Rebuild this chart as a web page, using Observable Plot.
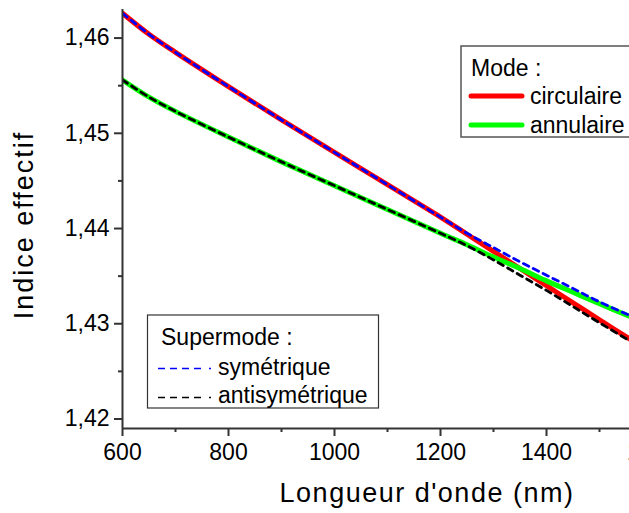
<!DOCTYPE html>
<html>
<head>
<meta charset="utf-8">
<script src="https://cdn.jsdelivr.net/npm/d3@7"></script>
<script src="https://cdn.jsdelivr.net/npm/@observablehq/plot@0.6"></script>
<style>
  html, body { margin: 0; padding: 0; overflow: hidden; background: #fff; }
  #chart { width: 629px; height: 513px; overflow: hidden; position: relative; }
</style>
</head>
<body>
<div id="chart"></div>
<script>
// Wavelength (nm)
const wavelengths = [600, 650, 700, 800, 900, 1000, 1100, 1200, 1250, 1300, 1350, 1400, 1450, 1500, 1560];
// Mode indices
const circulaire = [1.4626, 1.4604, 1.4585, 1.4549, 1.4514, 1.4480, 1.4446, 1.4412, 1.4394, 1.4376, 1.4358, 1.4340, 1.4322, 1.4304, 1.4283];
const annulaire  = [1.4556, 1.4538, 1.4523, 1.4496, 1.4470, 1.4445, 1.4420, 1.4395, 1.4383, 1.4370, 1.4358, 1.4345, 1.4333, 1.4321, 1.4307];
// Supermode indices
const symetrique     = [1.4626, 1.4604, 1.4585, 1.4549, 1.4514, 1.4480, 1.4446, 1.4412, 1.4395, 1.4380, 1.4365, 1.4351, 1.4337, 1.4323, 1.4308];
const antisymetrique = [1.4556, 1.4538, 1.4523, 1.4496, 1.4470, 1.4445, 1.4420, 1.4395, 1.4382, 1.4367, 1.4351, 1.4335, 1.4318, 1.4301, 1.4281];
// Ticks
const xMajorTicks = [600, 800, 1000, 1200, 1400, 1600];
const xMinorTicks = [700, 900, 1100, 1300, 1500];
const yMajorTicks = [1.42, 1.43, 1.44, 1.45, 1.46];
const yMinorTicks = [1.425, 1.435, 1.445, 1.455];

const series = (ys) => wavelengths.map((x, i) => ({x, y: ys[i]}));
const fmt = d => d.toFixed(2).replace(".", ",");
const FONT = "'Liberation Sans', Arial, sans-serif";
const AX = "#333";
const FS = 23;

const plot = Plot.plot({
  width: 670,
  height: 513,
  marginLeft: 122,
  marginRight: 18,
  marginTop: 9,
  marginBottom: 85,
  style: {fontFamily: FONT, fontSize: FS + "px", background: "#fff", color: "#000", maxWidth: "none"},
  x: {domain: [600, 1600], axis: null},
  y: {domain: [1.419, 1.463], axis: null},
  marks: [
    Plot.line(series(circulaire), {x: "x", y: "y", stroke: "#ff0000", strokeWidth: 5, curve: "catmull-rom", clip: true}),
    Plot.line(series(annulaire), {x: "x", y: "y", stroke: "#00ff00", strokeWidth: 5, curve: "catmull-rom", clip: true}),
    Plot.line(series(symetrique), {x: "x", y: "y", stroke: "#0000ff", strokeWidth: 2.8, strokeDasharray: "6,5", curve: "catmull-rom", clip: true}),
    Plot.line(series(antisymetrique), {x: "x", y: "y", stroke: "#000", strokeWidth: 2.8, strokeDasharray: "6,5", curve: "catmull-rom", clip: true}),
    Plot.axisX({ticks: xMajorTicks, tickSize: 8, tickPadding: 7, stroke: AX, strokeWidth: 2, fill: "#000", fontSize: FS, label: null, tickFormat: d => String(d)}),
    Plot.axisX({ticks: xMinorTicks, tickSize: 4, stroke: AX, strokeWidth: 2, label: null, tickFormat: () => ""}),
    Plot.axisY({ticks: yMajorTicks, tickSize: 8, tickPadding: 5, stroke: AX, strokeWidth: 2, fill: "#000", fontSize: FS, label: null, tickFormat: fmt}),
    Plot.axisY({ticks: yMinorTicks, tickSize: 4, stroke: AX, strokeWidth: 2, label: null, tickFormat: () => ""}),
    Plot.ruleX([600], {stroke: AX, strokeWidth: 2}),
    Plot.ruleY([1.419], {stroke: AX, strokeWidth: 2})
  ]
});
plot.style.maxWidth = "none";
plot.style.height = "513px";
document.getElementById("chart").appendChild(plot);

const svg = d3.select(plot);

// Axis titles
svg.append("text")
  .attr("x", 427).attr("y", 502)
  .attr("text-anchor", "middle")
  .style("font-family", FONT).style("font-size", "27px").style("letter-spacing", "1.5px")
  .attr("fill", "#000")
  .text("Longueur d'onde (nm)");
svg.append("text")
  .attr("transform", "translate(33,225) rotate(-90)")
  .attr("text-anchor", "middle")
  .style("font-family", FONT).style("font-size", "27px").style("letter-spacing", "2px")
  .attr("fill", "#000")
  .text("Indice effectif");

// Legend: Mode
const g1 = svg.append("g").attr("text-anchor", "start");
g1.append("rect").attr("x", 461).attr("y", 46).attr("width", 190).attr("height", 91)
  .attr("fill", "#fff").attr("stroke", "#555").attr("stroke-width", 1.5);
g1.append("text").attr("x", 471).attr("y", 75.5).attr("text-anchor", "start")
  .style("font-family", FONT).style("font-size", FS + "px").text("Mode :");
[["circulaire", "#ff0000", 96, 104], ["annulaire", "#00ff00", 125, 133]].forEach(([t, c, ly, ty]) => {
  g1.append("line").attr("x1", 471).attr("x2", 522).attr("y1", ly).attr("y2", ly)
    .attr("stroke", c).attr("stroke-width", 5).attr("stroke-linecap", "round");
  g1.append("text").attr("x", 530).attr("y", ty).attr("text-anchor", "start")
    .style("font-family", FONT).style("font-size", FS + "px").text(t);
});

// Legend: Supermode
const g2 = svg.append("g").attr("text-anchor", "start");
g2.append("rect").attr("x", 147.5).attr("y", 315).attr("width", 231).attr("height", 93)
  .attr("fill", "#fff").attr("stroke", "#333").attr("stroke-width", 1.2);
g2.append("text").attr("x", 161).attr("y", 345).attr("text-anchor", "start")
  .style("font-family", FONT).style("font-size", FS + "px").text("Supermode :");
[["symétrique", "#0000ff", 368.5, 375], ["antisymétrique", "#000", 397.5, 403]].forEach(([t, c, ly, ty]) => {
  g2.append("line").attr("x1", 158).attr("x2", 213).attr("y1", ly).attr("y2", ly)
    .attr("stroke", c).attr("stroke-width", 1.6).attr("stroke-dasharray", "7,5,7,5,7,5,7,8,2,100");
  g2.append("text").attr("x", 218).attr("y", ty).attr("text-anchor", "start")
    .style("font-family", FONT).style("font-size", FS + "px").text(t);
});
</script>
</body>
</html>
